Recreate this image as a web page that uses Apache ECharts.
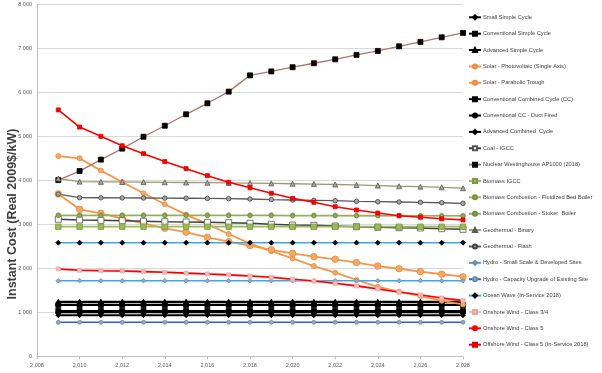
<!DOCTYPE html>
<html><head><meta charset="utf-8">
<script src="https://cdn.jsdelivr.net/npm/echarts@6/dist/echarts.min.js"></script>
<style>html,body{margin:0;padding:0;background:#fff}#c{width:602px;height:373px}</style>
</head><body><div id="c"></div>
<script>
const years = [2009,2010,2011,2012,2013,2014,2015,2016,2017,2018,2019,2020,2021,2022,2023,2024,2025,2026,2027,2028];
const yTicks = [0,1000,2000,3000,4000,5000,6000,7000,8000];
const xTicks = [2008,2010,2012,2014,2016,2018,2020,2022,2024,2026,2028];
const yAxisTitle = 'Instant Cost (Real 2009$/kW)';

const smallSimple   = [1245,1245,1245,1245,1245,1245,1245,1245,1245,1245,1245,1245,1245,1245,1245,1245,1245,1245,1245,1245];
const convSimple    = [1165,1165,1165,1165,1165,1165,1165,1165,1165,1165,1165,1165,1165,1165,1165,1165,1165,1165,1165,1165];
const advSimple     = [1230,1230,1230,1230,1230,1230,1230,1230,1230,1230,1230,1230,1230,1230,1230,1230,1230,1230,1230,1230];
const solarPV       = [4550,4500,4220,3960,3705,3455,3220,3005,2780,2560,2390,2225,2050,1900,1735,1580,1470,1370,1260,1180];
const solarTrough   = [3690,3340,3250,3130,3020,2910,2820,2705,2605,2515,2420,2340,2265,2205,2130,2050,1990,1925,1865,1810];
const convCC        = [1030,1030,1030,1030,1030,1030,1030,1030,1030,1030,1030,1030,1030,1030,1030,1030,1030,1030,1030,1030];
const convCCDuct    = [1000,1000,1000,1000,1000,1000,1000,1000,1000,1000,1000,1000,1000,1000,1000,1000,1000,1000,1000,1000];
const advCC         = [935,935,935,935,935,935,935,935,935,935,935,935,935,935,935,935,935,935,935,935];
const coalIGCC      = [3115,3100,3090,3080,3070,3060,3052,3045,3037,3023,3000,2984,2977,2961,2945,2932,2923,2916,2900,2886];
const nuclear       = [4005,4210,4470,4720,4990,5240,5500,5750,6015,6385,6475,6570,6660,6750,6850,6940,7045,7145,7250,7350];
const biomassIGCC   = [2945,2945,2945,2945,2945,2945,2945,2945,2945,2945,2945,2945,2945,2945,2945,2945,2945,2945,2945,2945];
const biomassFluid  = [3210,3210,3210,3210,3210,3210,3210,3210,3210,3210,3210,3205,3205,3205,3200,3200,3200,3195,3195,3195];
const biomassStoker = [3195,3195,3195,3195,3195,3195,3195,3195,3195,3195,3195,3190,3190,3190,3190,3190,3190,3190,3190,3190];
const geoBinary     = [4040,3970,3965,3962,3958,3955,3950,3945,3940,3935,3930,3922,3915,3905,3895,3880,3865,3855,3840,3820];
const geoFlash      = [3685,3605,3603,3600,3598,3595,3592,3588,3582,3575,3562,3552,3545,3536,3523,3514,3507,3500,3490,3477];
const hydroSmall    = [1718,1718,1718,1718,1718,1718,1718,1718,1718,1718,1718,1718,1718,1718,1718,1718,1718,1718,1718,1718];
const hydroUpgrade  = [773,773,773,773,773,773,773,773,773,773,773,773,773,773,773,773,773,773,773,773];
const oceanWave     = [2582,2582,2582,2582,2582,2582,2582,2582,2582,2582,2582,2582,2582,2582,2582,2582,2582,2582,2582,2582];
const onshore34     = [1985,1955,1945,1940,1925,1910,1890,1870,1850,1825,1795,1750,1710,1660,1600,1530,1460,1395,1325,1265];
const onshore5      = [1985,1955,1945,1940,1925,1910,1890,1870,1850,1825,1795,1750,1710,1660,1600,1530,1460,1395,1325,1265];
const offshore      = [5600,5210,5000,4785,4605,4425,4265,4105,3955,3830,3705,3590,3500,3400,3325,3255,3195,3160,3125,3100];

const defs = [
 ['Small Simple Cycle', smallSimple, '#000', 'diamond', 3, '#000', '#000', 1.5],
 ['Conventional Simple Cycle', convSimple, '#000', 'rect', 5, '#000', '#000', 2],
 ['Advanced Simple Cycle', advSimple, '#000', 'triangle', 6, '#000', '#000', 2],
 ['Solar - Photovoltaic (Single Axis)', solarPV, '#F79646', 'circle', 5, '#F4A86A', '#E98A3C', 1.8],
 ['Solar - Parabolic Trough', solarTrough, '#F79646', 'circle', 6.5, '#F5A765', '#E98A3C', 1.8],
 ['Conventional Combined Cycle (CC)', convCC, '#000', 'rect', 5, '#000', '#000', 2],
 ['Conventional CC - Duct Fired', convCCDuct, '#000', 'circle', 5, '#000', '#000', 2],
 ['Advanced Combined  Cycle', advCC, '#000', 'diamond', 5, '#000', '#000', 2],
 ['Coal - IGCC', coalIGCC, '#404040', 'rect', 6, '#fff', '#555', 1.5],
 ['Nuclear Westinghouse AP1000 (2018)', nuclear, '#B5736A', 'rect', 5, '#000', '#000', 1.3],
 ['Biomass IGCC', biomassIGCC, '#9BBB59', 'rect', 5.5, '#9BBB59', '#7E9A45', 1.8],
 ['Biomass Combustion - Fluidized Bed Boiler', biomassFluid, '#A3B55C', 'circle', 4.5, '#A3B55C', '#7F8F40', 1.3],
 ['Biomass Combustion - Stoker  Boiler', biomassStoker, '#8FAF5A', 'circle', 4, '#8FAF5A', '#6E8C3E', 1.3],
 ['Geothermal - Binary', geoBinary, '#9C9A6E', 'triangle', 5, '#A6A6A6', '#595959', 1.3],
 ['Geothermal - Flash', geoFlash, '#595959', 'circle', 4.5, '#A6A6A6', '#404040', 1.3],
 ['Hydro - Small Scale & Developed Sites', hydroSmall, '#3FA8E4', 'diamond', 4.5, '#8FA9C4', '#6D8AA8', 1.6],
 ['Hydro - Capacity Upgrade of Existing Site', hydroUpgrade, '#2A62C9', 'circle', 4, '#8FA9C4', '#6D8AA8', 1.6],
 ['Ocean Wave (In-Service 2018)', oceanWave, '#3FA8E4', 'diamond', 5, '#000', '#000', 1.6],
 ['Onshore Wind - Class 3/4', onshore34, '#F2BCBC', 'rect', 4, '#F2BCBC', '#E7A6A6', 2.2],
 ['Onshore Wind - Class 5', onshore5, '#FF0000', 'none', 0, '#FF0000', '#FF0000', 1.6],
 ['Offshore Wind - Class 5 (In-Service 2018)', offshore, '#FF0000', 'rect', 4, '#FF0000', '#E00000', 1.6]
];

const series = defs.map(d => ({
  name: d[0], type: 'line',
  data: years.map((y, i) => [y, d[1][i]]),
  symbol: d[3], symbolSize: d[4], showSymbol: d[3] !== 'none',
  lineStyle: { color: d[2], width: d[7] },
  itemStyle: { color: d[5], borderColor: d[6], borderWidth: 0.8 },
  emphasis: { disabled: true },
  animation: false, z: 2
}));

function fmtK(v) {
  if (v < 1000) return String(v);
  return Math.floor(v / 1000) + ' ' + String(v % 1000).padStart(3, '0');
}

const chart = echarts.init(document.getElementById('c'), null, { renderer: 'canvas' });
chart.setOption({
  backgroundColor: '#fff',
  animation: false,
  grid: { left: 37, right: 139, top: 4.3, bottom: 16.7, containLabel: false },
  xAxis: {
    type: 'value', min: xTicks[0], max: xTicks[xTicks.length - 1], interval: 2,
    axisLine: { show: true, lineStyle: { color: '#BFBFBF', width: 1, type: [2, 1] } },
    axisTick: { show: true, length: 3, lineStyle: { color: '#BFBFBF' } },
    axisLabel: { fontSize: 5.5, color: '#595959', margin: 6, fontFamily: 'Liberation Sans' },
    splitLine: { show: false }
  },
  yAxis: {
    type: 'value', min: yTicks[0], max: yTicks[yTicks.length - 1], interval: 1000,
    axisLine: { show: true, lineStyle: { color: '#BFBFBF' } },
    axisTick: { show: false },
    axisLabel: { fontSize: 5.5, color: '#595959', margin: 5, formatter: fmtK, fontFamily: 'Liberation Sans' },
    splitLine: { show: true, lineStyle: { color: '#D9D9D9', width: 1 } }
  },
  legend: {
    orient: 'vertical', left: 468, top: 13.8, padding: 0,
    itemWidth: 12, itemHeight: 5, itemGap: 9.37,
    textStyle: { fontSize: 5.7, color: '#404040', fontFamily: 'Liberation Sans', lineHeight: 7, padding: [0, 0, 0, -3] },
    data: defs.map(d => d[0])
  },
  graphic: [{
    type: 'text', x: 13, y: 214, rotation: Math.PI / 2,
    style: { text: yAxisTitle, fontSize: 12.5, fontWeight: 'bold', fill: '#404040', fontFamily: 'Liberation Sans',
             textAlign: 'center', textVerticalAlign: 'middle' }
  }],
  series: series
});
</script></body></html>
